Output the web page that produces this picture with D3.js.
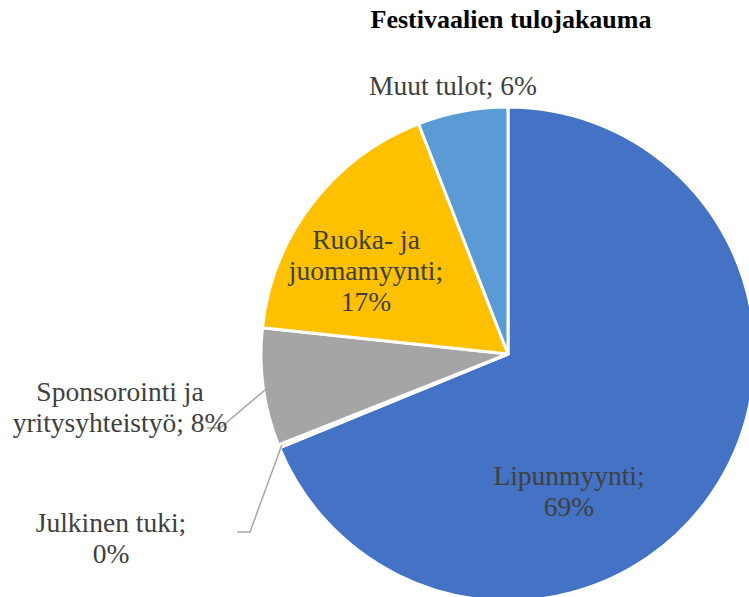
<!DOCTYPE html>
<html lang="fi">
<head>
    <meta charset="UTF-8">
    <script src="https://d3js.org/d3.v7.min.js"></script>
    <title>Festivaalien tulojakauma</title>
    <style>
        body {
            margin: 0;
            background: #fff;
            overflow: hidden;
        }
    </style>
</head>
<body>
    <script>
        // Tulolähteet ja osuudet (%)
        var categories = ["Lipunmyynti", "Julkinen tuki", "Sponsorointi ja yritysyhteistyö", "Ruoka- ja juomamyynti", "Muut tulot"];
        var values = [68.8, 0.2, 7.7, 17.4, 5.9];
        var labelLines = [
            ["Lipunmyynti;", "69%"],
            ["Julkinen tuki;", "0%"],
            ["Sponsorointi ja", "yritysyhteistyö; 8%"],
            ["Ruoka- ja", "juomamyynti;", "17%"],
            ["Muut tulot; 6%"]
        ];
        var colors = ["#4472C4", "#ED7D31", "#A5A5A5", "#FFC000", "#5B9BD5"];

        var width = 749,
            height = 597;

        var cx = 508, cy = 354, radius = 247;
        var fontFamily = "'Liberation Serif', 'Times New Roman', 'DejaVu Serif', serif";

        // Sijoittelu tekstille (x, ensimmäisen rivin perusviiva)
        var labelLayout = [
            [569, 485],
            [111, 532],
            [120, 401],
            [366, 249],
            [453, 95]
        ];
        var lineHeight = 31;

        var svg = d3.select("body")
            .append("svg")
            .attr("width", width)
            .attr("height", height);

        svg.append("text")
            .attr("x", 511)
            .attr("y", 28)
            .attr("text-anchor", "middle")
            .attr("font-family", fontFamily)
            .attr("font-size", 26)
            .attr("font-weight", "bold")
            .attr("fill", "#000")
            .text("Festivaalien tulojakauma");

        var data = categories.map(function (c, i) {
            return { name: c, value: values[i], i: i };
        });

        var pie = d3.pie()
            .sort(null)
            .value(function (d) { return d.value; });

        var arc = d3.arc()
            .innerRadius(0)
            .outerRadius(radius);

        var arcs = pie(data);

        var g = svg.append("g")
            .attr("transform", "translate(" + cx + "," + cy + ")");

        g.selectAll("path")
            .data(arcs)
            .join("path")
            .attr("d", arc)
            .style("fill", function (d) { return colors[d.data.i]; })
            .style("stroke", "#fff")
            .style("stroke-width", 3)
            .style("stroke-linejoin", "round");

        // Viivat pienille siivuille
        function edgePoint(d, r) {
            var a = (d.startAngle + d.endAngle) / 2;
            return [cx + r * Math.sin(a), cy - r * Math.cos(a)];
        }
        var p1 = edgePoint(arcs[1], radius - 3);
        var p2 = edgePoint(arcs[2], radius - 6);

        var line = d3.line();
        svg.append("path")
            .attr("d", line([p1, [250, 532], [237, 532]]))
            .style("fill", "none")
            .style("stroke", "#a6a6a6")
            .style("stroke-width", 1.5);

        svg.append("path")
            .attr("d", line([p2, [220, 428], [207, 428]]))
            .style("fill", "none")
            .style("stroke", "#a6a6a6")
            .style("stroke-width", 1.5);

        // Tekstit
        var labels = svg.append("g");
        data.forEach(function (d, i) {
            var t = labels.append("text")
                .attr("text-anchor", "middle")
                .attr("font-family", fontFamily)
                .attr("font-size", 27.5)
                .attr("fill", "#404040");
            labelLines[i].forEach(function (ln, k) {
                t.append("tspan")
                    .attr("x", labelLayout[i][0])
                    .attr("y", labelLayout[i][1] + k * lineHeight)
                    .text(ln);
            });
        });
    </script>
</body>
</html>
